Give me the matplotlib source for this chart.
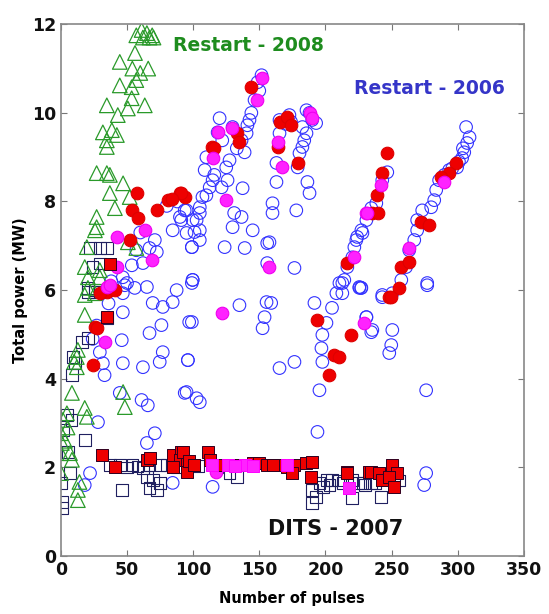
import matplotlib.pyplot as plt
import numpy as np

# Restart - 2006 : open blue circles (pulse number, total power MW)
blue_x = [110, 105, 95, 90, 102.6, 84.5, 95, 105, 99, 71, 67, 72.5, 62, 53.6, 46.8, 50, 65, 99.6, 87.5, 105,
          69.4, 77, 84.5, 46.8, 67, 76, 97, 77, 74.7, 46.8, 62, 96, 33, 46, 44.5, 61, 65.7, 93.6, 102.6, 28,
          71, 65, 22, 18, 84.5, 29.4, 31.7, 48.3, 55.8, 46.8,
          151.7, 148.7, 146.4, 144, 142.6, 141, 120, 118.5, 122, 129.8, 140.4, 138.9, 136.6, 110, 108.7, 127.5,
          125, 126, 114.7, 121.5, 112.5, 137.4, 107, 105, 93.6, 91, 99.6, 101, 99, 131, 136.6, 129.8, 145,
          123.8, 139, 156, 99.6,
          165.3, 172.8, 188, 190, 193, 182.6, 185.7, 184, 182.6, 180.4, 163, 179, 186.4, 188, 163, 160, 178,
          160, 157.7, 176.6, 156, 185.7, 165.3,
          216.6, 220.4, 223.4, 228, 231, 210.6, 225.7, 212.8,
          246.8, 243, 238.5, 234.7, 227.2, 224, 221.9, 214.3, 227.2, 243, 277, 306.4, 307.2, 305, 303.4, 299.6,
          293.6, 286, 283.8, 282.3, 280, 273.2, 269.4, 269.4, 267.2, 263.4, 261, 257.4, 250.6,
          99, 135, 155.5, 159, 154, 152.5, 99, 96, 95, 105, 165.3, 176.6, 191.7, 205, 208.3, 212.8, 227, 231,
          235.5, 200.8, 197.7, 197, 197.7, 195.5, 194, 114.7,
          225.7, 243, 277, 231, 234.7, 250.6, 249.8, 248.3, 276.2, 276.2, 274.7,
          24, 27, 36, 38, 57, 60, 80, 88, 116, 133, 150, 170, 174, 290, 296, 301, 304, 309]
blue_y = [8.14, 7.74, 7.8, 7.65, 7.58, 7.35, 7.29, 7.13, 6.97, 7.13, 6.95, 6.86, 6.61, 6.56, 6.29, 6.16, 6.07, 6.23, 6.0, 7.35,
          5.71, 5.62, 5.73, 5.5, 5.03, 5.21, 5.28, 4.6, 4.38, 4.35, 4.26, 4.42, 4.08, 4.87, 3.68, 3.52, 3.4, 3.68, 3.56, 3.02,
          2.77, 2.55, 1.87, 1.6, 1.65, 4.6, 4.35, 6.11, 6.05, 5.93,
          10.85, 10.69, 10.29, 10.0, 9.84, 9.72, 9.88, 9.56, 9.38, 9.68, 9.54, 9.11, 9.38, 9.0, 8.71, 8.93,
          8.77, 8.48, 8.48, 8.32, 8.32, 8.3, 8.1, 7.87, 7.8, 7.58, 7.58, 7.31, 6.97, 7.74, 7.65, 7.42, 7.35,
          6.97, 6.95, 7.06, 6.23,
          9.84, 9.95, 10.0, 9.84, 9.77, 9.68, 9.54, 9.38, 9.23, 9.09, 8.87, 8.77, 8.44, 8.19, 8.44, 7.96, 7.8,
          7.74, 7.08, 6.5, 6.61, 10.06, 9.54,
          6.52, 6.74, 7.13, 7.29, 7.58, 6.16, 6.07, 5.93,
          8.66, 8.48, 7.96, 7.85, 7.35, 7.2, 6.97, 6.23, 6.05, 5.89, 6.16, 9.68, 9.32, 9.11, 8.98, 8.77,
          8.71, 8.48, 8.26, 8.03, 7.87, 7.8, 7.58, 7.35, 7.13, 6.9, 6.52, 6.23, 5.93,
          6.16, 5.66, 5.73, 5.71, 5.39, 5.14, 5.28, 4.42, 3.7, 3.47, 4.24, 4.38, 5.71, 5.6, 5.93, 6.16, 6.05, 5.39,
          5.1, 5.26, 4.99, 4.69, 4.38, 3.74, 2.8, 1.56,
          6.05, 5.84, 6.11, 5.39, 5.05, 5.1, 4.76, 4.58, 3.74, 1.87, 1.6,
          4.9, 5.2, 5.7, 6.2, 6.9, 7.3, 7.9, 8.0, 8.6, 9.2, 10.5, 9.75, 9.8, 8.6, 8.75, 8.9, 9.2, 9.45]

# Restart - 2006 : red filled circles
red_x = [57.4, 53.6, 58, 72.5, 80.8, 90, 93.6, 52, 34.7, 40.8, 25.7, 27, 24, 29.4,
         144, 114, 132.8, 135, 165.3, 171.3, 174.3, 163.8, 179, 91, 216,
         246.8, 243, 239, 235.5, 248.3, 272.5, 278.5, 257.4, 263.4, 255.8, 298.9, 293.6, 287.5,
         194, 219.6, 206.8, 210.6, 203, 249.8, 84, 116, 239.5]
red_y = [8.19, 7.8, 7.62, 7.8, 8.03, 8.19, 8.1, 7.13, 5.96, 6.0, 5.17, 5.14, 4.31, 5.93,
         10.58, 9.23, 9.54, 9.34, 9.79, 9.9, 9.72, 9.23, 8.87, 8.19, 6.61,
         9.09, 8.64, 8.14, 7.74, 5.84, 7.53, 7.47, 6.52, 6.63, 6.05, 8.87, 8.64, 8.55,
         5.32, 4.99, 4.53, 4.49, 4.08, 5.84, 8.05, 9.2, 7.75]

# Restart - 2006 : magenta filled circles
mag_x = [42.3, 63.4, 68.7, 42.3, 34.7, 33.2, 37,
         151.7, 148, 118.5, 129, 114.7, 125, 163.8, 167.5, 188, 190, 157.7, 231, 222,
         242.3, 231.7, 263.4, 290, 122, 229.4, 117]
mag_y = [7.2, 7.35, 6.68, 6.52, 6.07, 4.83, 6.11,
         10.78, 10.29, 9.56, 9.65, 8.98, 8.03, 9.34, 8.77, 10.0, 9.88, 6.52, 7.74, 6.74,
         8.37, 7.74, 6.95, 8.44, 5.48, 5.26, 1.9]

# DITS - 2007 : open navy squares
sq_x = [22, 29.4, 34.7, 29.4, 24, 20.4, 25.7, 20.4, 25.7, 34.7, 20.4, 15.8, 9, 10.6, 8.3, 4.5, 8, 1.5, 18,
        5.3, 6.8, 0, 0.7, 0.7,
        37, 44.5, 54, 67, 75, 80, 65, 69.4, 75, 67, 72.5, 46, 50, 58, 62, 88, 104, 118,
        127.5, 133, 190, 193, 190, 195.5, 200.7, 205, 213, 220, 228, 235, 220, 242, 225, 230, 238,
        198, 203, 210, 245, 252, 256]
sq_y = [6.95, 6.95, 6.95, 6.6, 6.52, 6.05, 6.0, 5.96, 5.96, 5.37, 4.92, 4.83, 4.49, 4.35, 4.08, 3.18, 3.07, 2.84, 2.62,
        2.35, 1.87, 1.65, 1.22, 1.08,
        2.05, 2.05, 2.05, 2.05, 2.05, 2.05, 1.78, 1.71, 1.65, 1.53, 1.49, 1.49, 2.0, 2.02, 1.98, 2.0, 2.03, 2.0,
        1.87, 1.78, 1.49, 1.33, 1.2, 1.65, 1.71, 1.71, 1.65, 1.71, 1.65, 1.65, 1.31, 1.33, 1.65, 1.6, 1.65,
        1.55, 1.6, 1.7, 1.8, 1.82, 1.7]

# DITS - 2007 : red filled squares
rsq_x = [34.7, 31, 40.8, 65, 67, 84.5, 91, 90, 95, 84.5, 95, 101,
         92, 97, 101, 111, 112.5, 122, 135, 145, 150, 155.5, 165, 170.6, 176.6, 175, 185.7, 190, 189.4,
         216, 233, 216.6, 234.7, 240.8, 243, 250.6, 254.3, 248.3, 252, 37, 130, 160]
rsq_y = [5.39, 2.28, 2.01, 2.17, 2.21, 2.28, 2.35, 2.17, 2.12, 2.01, 1.89, 2.05,
         2.35, 2.14, 2.05, 2.35, 2.17, 2.05, 2.05, 2.1, 2.1, 2.05, 2.05, 2.01, 2.05, 1.87, 2.1, 2.12, 1.78,
         1.9, 1.9, 1.87, 1.9, 1.87, 1.71, 2.05, 1.87, 1.78, 1.56, 6.6, 2.05, 2.05]

# DITS - 2007 : magenta filled squares
msq_x = [114, 126, 139, 170.6, 218, 145, 132]
msq_y = [2.05, 2.05, 2.05, 2.05, 1.53, 2.02, 2.02]

# Restart - 2008 : open green triangles
tri_x = [61, 65, 69, 57, 67, 62, 70, 56, 44.5, 54, 66, 60, 57, 44.5, 53.5, 53.5, 34.7, 50.6, 63.4, 43,
         31.7, 38.5, 42.3, 34.7, 34.7, 27, 34.7, 37, 47, 37, 52, 40.8, 27, 25.7, 27, 50.6, 19.6, 57,
         18, 29.4, 20.4, 29.4, 20.4, 18, 25.7, 18, 12.8, 12, 10, 12, 8.3, 47, 48.3, 4.5, 1.5, 18, 19.6,
         0, 0.7, 0, 6.8, 8.3, 0, 14, 12.8, 12.8, 5, 3]
tri_y = [11.87, 11.8, 11.75, 11.75, 11.7, 11.7, 11.7, 11.35, 11.15, 11.0, 11.0, 10.9, 10.74, 10.62, 10.58, 10.33,
         10.17, 10.1, 10.17, 9.95, 9.56, 9.61, 9.5, 9.38, 9.23, 8.64, 8.64, 8.6, 8.41, 8.19, 8.1, 7.85, 7.65,
         7.35, 7.42, 7.08, 6.97, 6.95, 6.52, 6.45, 6.29, 6.29, 6.05, 5.89, 5.93, 5.44, 4.65, 4.49, 4.38, 4.26,
         3.68, 3.7, 3.36, 3.22, 3.07, 3.34, 3.14, 2.77, 2.55, 2.32, 2.32, 2.17, 1.87, 1.67, 1.49, 1.26, 2.9, 2.6]

fig = plt.figure(figsize=(5.49, 6.14), dpi=100)
ax = fig.add_axes([0.111, 0.0945, 0.843, 0.866])

ms = 82
ax.scatter(blue_x, blue_y, s=ms, marker='o', facecolors='none', edgecolors='#3333ff', linewidths=0.8, zorder=2)
ax.scatter(red_x, red_y, s=ms, marker='o', facecolors='#ee0000', edgecolors='#dd0000', linewidths=0.8, zorder=3)
ax.scatter(mag_x, mag_y, s=ms, marker='o', facecolors='#ff22ff', edgecolors='#ee00ee', linewidths=0.8, zorder=3)
ax.scatter(sq_x, sq_y, s=70, marker='s', facecolors='none', edgecolors='#202060', linewidths=0.8, zorder=2)
ax.scatter(rsq_x, rsq_y, s=75, marker='s', facecolors='#ee0000', edgecolors='#300020', linewidths=0.7, zorder=3)
ax.scatter(msq_x, msq_y, s=75, marker='s', facecolors='#ff22ff', edgecolors='#ff00ff', linewidths=0.7, zorder=3)
ax.scatter(tri_x, tri_y, s=110, marker='^', facecolors='none', edgecolors='#2a9a2a', linewidths=0.9, zorder=2)

ax.text(142, 11.52, 'Restart - 2008', color='#1e8c1e', fontsize=13.5, fontweight='bold', ha='center', va='center')
ax.text(279, 10.56, 'Restart - 2006', color='#3535c8', fontsize=13.5, fontweight='bold', ha='center', va='center')
ax.text(208, 0.6, 'DITS - 2007', color='#111111', fontsize=15, fontweight='bold', ha='center', va='center')

ax.set_xlim(0, 350)
ax.set_ylim(0, 12)
ax.set_xticks(np.arange(0, 351, 50))
ax.set_yticks(np.arange(0, 13, 2))
ax.tick_params(direction='in', top=True, right=True, length=4, color='#777777',
               labelsize=12.5, labelcolor='#111111')
for lab in ax.get_xticklabels() + ax.get_yticklabels():
    lab.set_fontweight('bold')
for sp in ax.spines.values():
    sp.set_color('#888888')
    sp.set_linewidth(1.2)

ax.set_xlabel('Number of pulses', fontsize=10.5, fontweight='bold', labelpad=9)
ax.set_ylabel('Total power (MW)', fontsize=10.5, fontweight='bold', labelpad=3)

plt.savefig('out.png', dpi=100)
